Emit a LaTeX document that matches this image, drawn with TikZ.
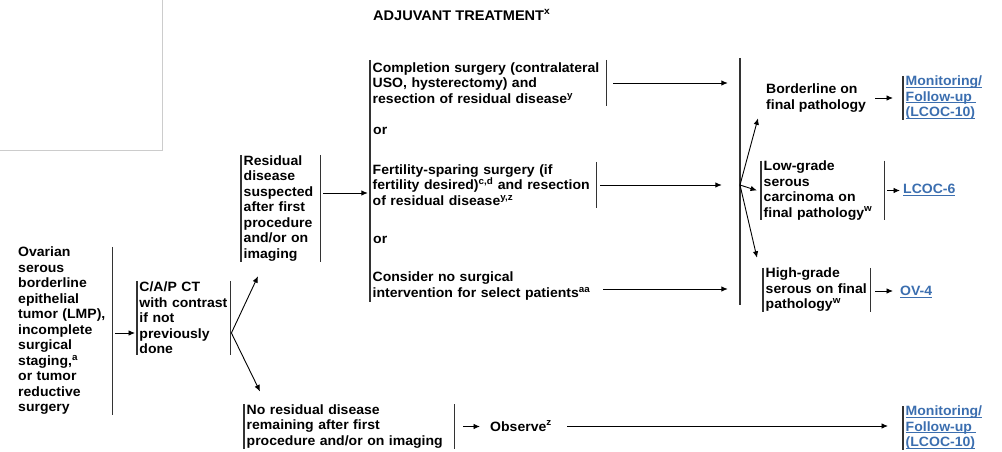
\documentclass[tikz,border=0pt]{standalone}
\usepackage{fontspec}
\setmainfont{Liberation Sans}[FakeStretch=1.04]
\usetikzlibrary{arrows.meta,calc}
\definecolor{linkblue}{HTML}{3B6EAF}
\definecolor{barcol}{HTML}{333333}
\definecolor{framegray}{HTML}{CCCCCC}
\newcommand{\bodyfont}{\fontsize{13.5}{15.5}\selectfont\bfseries}
\newcommand{\lnk}[1]{\leavevmode\setbox0\hbox{#1}\rlap{\rule[-1.9pt]{\wd0}{0.9pt}}\box0}
\begin{document}
\begin{tikzpicture}[x=1pt,y=-1pt,
  tbox/.style={font=\bodyfont, align=left, anchor=west, inner xsep=2.5pt, inner ysep=0pt, text width=#1},
  txt/.style={font=\bodyfont, align=left, anchor=west, inner sep=0pt},
  bar/.style={draw=barcol, line width=1.2pt},
  arr/.style={draw=black, line width=0.9pt, -{Latex[length=6.5pt,width=5.5pt]}},
  hold/.style={inner sep=0pt, minimum width=0pt}]
\useasboundingbox (0,0) rectangle (1002,452);
\draw[framegray, line width=0.8pt] (0,150) -- (162,150) -- (162,0);

\node[txt, font=\fontsize{14}{16}\selectfont\bfseries] (title) at (373,15) {ADJUVANT TREATMENT\textsuperscript{x}};

\node[tbox=91.5pt, minimum height=168pt] (ovarian) at (15.5,331) {Ovarian\\serous\\borderline\\epithelial\\tumor (LMP),\\incomplete\\surgical\\staging,\textsuperscript{a}\\or tumor\\reductive\\surgery};
\draw[bar] (ovarian.north east) -- (ovarian.south east);

\node[tbox=88.5pt, minimum height=74pt, inner xsep=2.25pt] (ct) at (137,318) {C/A/P CT\\with contrast\\if not\\previously\\done};
\draw[bar] (ct.north west) -- (ct.south west);
\draw[bar] (ct.north east) -- (ct.south east);

\node[tbox=74pt, minimum height=107pt] (resid) at (241,208.5) {Residual\\disease\\suspected\\after first\\procedure\\and/or on\\imaging};
\draw[bar] (resid.north west) -- (resid.south west);
\draw[bar] (resid.north east) -- (resid.south east);

\node[tbox=205pt, minimum height=43pt] (nores) at (244,426.5) {No residual disease\\remaining after first\\procedure and/or on imaging};
\draw[bar] (nores.north west) -- (nores.south west);
\draw[bar] (nores.north east) -- (nores.south east);

\node[hold, minimum height=242pt] (optl) at (370,181) {};
\draw[bar] (optl.north) -- (optl.south);

\node[tbox=231pt, minimum height=46pt] (compl) at (370,83) {Completion surgery (contralateral\\USO, hysterectomy) and\\resection of residual disease\textsuperscript{y}};
\draw[bar] (compl.north east) -- (compl.south east);

\node[txt] (or1) at (373,131) {or};

\node[tbox=221pt, minimum height=46pt] (fert) at (370,185) {Fertility-sparing surgery (if\\fertility desired)\textsuperscript{c,d} and resection\\of residual disease\textsuperscript{y,z}};
\draw[bar] (fert.north east) -- (fert.south east);

\node[txt] (or2) at (373,240) {or};

\node[tbox=221pt] (consider) at (370,286) {Consider no surgical\\intervention for select patients\textsuperscript{aa}};

\node[hold, minimum height=247pt] (optr) at (740,181.5) {};
\draw[bar] (optr.north) -- (optr.south);

\node[txt] (border) at (766,98) {Borderline on\\final pathology};

\node[tbox=80pt, minimum height=44pt, text=linkblue] (link1) at (903,98) {\lnk{Monitoring/}\\\lnk{Follow-up }\\\lnk{(LCOC-10)}};
\draw[bar] (link1.north west) -- (link1.south west);

\node[tbox=118pt, minimum height=59pt] (lowg) at (761,190.5) {Low-grade\\serous\\carcinoma on\\final pathology\textsuperscript{w}};
\draw[bar] (lowg.north west) -- (lowg.south west);
\draw[bar] (lowg.north east) -- (lowg.south east);

\node[txt, text=linkblue] (lcoc6) at (903,190) {\lnk{LCOC-6}};

\node[tbox=102pt, minimum height=44pt] (highg) at (763,290) {High-grade\\serous on final\\pathology\textsuperscript{w}};
\draw[bar] (highg.north west) -- (highg.south west);
\draw[bar] (highg.north east) -- (highg.south east);

\node[txt, text=linkblue] (ov4) at (900,292) {\lnk{OV-4}};

\node[txt] (observe) at (490,426) {Observe\textsuperscript{z}};

\node[tbox=80pt, minimum height=42pt, text=linkblue] (link2) at (903,428) {\lnk{Monitoring/}\\\lnk{Follow-up }\\\lnk{(LCOC-10)}};
\draw[bar] (link2.north west) -- (link2.south west);

% connectors
\draw[arr] ($(ovarian.east)+(3,2)$) -- ($(ovarian.east -| ct.west)+(-2,2)$);
\draw[arr] ($(ct.east)+(1,15)$) -- ($(resid.south west)+(17,14)$);
\draw[arr] ($(ct.east)+(1,15)$) -- ($(nores.north west)+(16,-13)$);
\draw[arr] ($(resid.east)+(3,-15.5)$) -- ($(resid.east -| optl.west)+(-2,-15.5)$);
\draw[arr] ($(compl.east)+(7,0)$) -- ($(compl.east -| optr.west)+(-12,0)$);
\draw[arr] ($(fert.east)+(4,0)$) -- ($(fert.east -| optr.west)+(-18,0)$);
\draw[arr] ($(consider.east)+(7,3)$) -- ($(consider.east -| optr.west)+(-12,3)$);
\draw[arr] (optr.center |- fert.east) -- ($(border.south west)+(-8,6)$);
\draw[arr] (optr.center |- fert.east) -- ($(lowg.west)+(-4,0)$);
\draw[arr] (optr.center |- fert.east) -- ($(highg.north west)+(-6,-10)$);
\draw[arr] ($(border.east)+(9,0)$) -- ($(border.east -| link1.west)+(-10,0)$);
\draw[arr] ($(lowg.east)+(3,0)$) -- ($(lowg.east -| lcoc6.west)+(-3,0)$);
\draw[arr] ($(highg.east)+(5,1)$) -- ($(highg.east -| ov4.west)+(-7,1)$);
\draw[arr] ($(nores.east)+(9,0)$) -- ($(nores.east -| observe.west)+(-10,0)$);
\draw[arr] ($(observe.east)+(15,0)$) -- ($(observe.east -| link2.west)+(-15,0)$);
\end{tikzpicture}
\end{document}
